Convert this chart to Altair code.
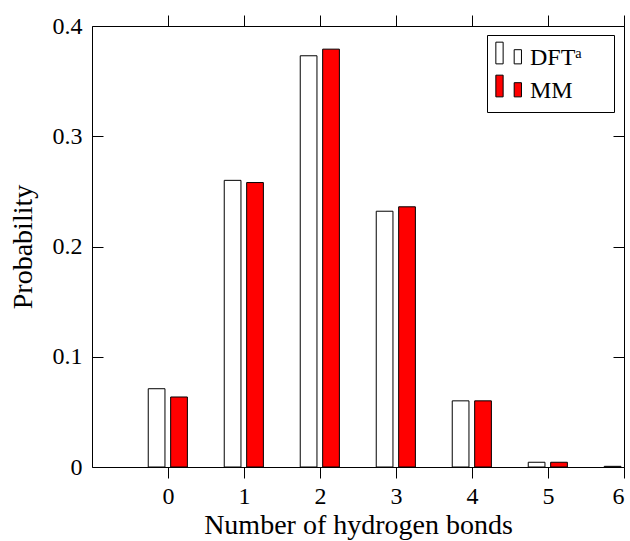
import altair as alt
import pandas as pd

# ---- data ----
hbonds = [0, 1, 2, 3, 4, 5, 6]
dft = [0.071, 0.260, 0.373, 0.232, 0.060, 0.0043, 0.0006]
mm = [0.0635, 0.258, 0.379, 0.236, 0.060, 0.0043, 0.0]
series_names = ["DFTᵃ", "MM"]
x_ticks = [0, 1, 2, 3, 4, 5, 6]
y_ticks = [0, 0.1, 0.2, 0.3, 0.4]

rows = []
for n, a, b in zip(hbonds, dft, mm):
    rows.append({"n": n, "series": series_names[0], "p": a})
    rows.append({"n": n, "series": series_names[1], "p": b})
df = pd.DataFrame(rows)

FONT = "Liberation Serif"
xscale = alt.Scale(domain=[-1, 6], nice=False, zero=False)
yscale = alt.Scale(domain=[0, 0.4], nice=False)

base = alt.Chart(df).transform_calculate(
    x0=f"datum.n + (datum.series == '{series_names[0]}' ? -0.26 : 0.035)",
    x1=f"datum.n + (datum.series == '{series_names[0]}' ? -0.04 : 0.255)",
)

legend_symbol = ("M-1.05,-1.18H-0.49V0.49H-1.05Z "
                 "M0.36,-0.6H0.92V0.49H0.36Z")

bars = base.mark_bar(stroke="black", strokeWidth=1, clip=True).encode(
    x=alt.X("x0:Q", scale=xscale,
            axis=alt.Axis(values=x_ticks, title="Number of hydrogen bonds", orient="bottom",
                          tickSize=11, labelPadding=6, titleY=66,
                          titleBaseline="alphabetic", domain=False,
                          grid=False, format="d")),
    x2="x1:Q",
    y=alt.Y("p:Q", scale=yscale,
            axis=alt.Axis(values=y_ticks, title="Probability", orient="left",
                          ticks=False, tickSize=0, labelPadding=10, titleX=-69,
                          titleBaseline="middle",
                          domain=False, grid=False, format=".1~f")),
    y2=alt.datum(0),
    color=alt.Color("series:N",
                    scale=alt.Scale(domain=series_names, range=["white", "red"]),
                    legend=alt.Legend(title=None, orient="none", legendX=395, legendY=9,
                                      symbolType=legend_symbol,
                                      symbolSize=676, symbolStrokeColor="black",
                                      symbolStrokeWidth=1, labelFont=FONT, labelFontSize=24,
                                      labelOffset=7, rowPadding=3, padding=9,
                                      labelExpr="datum.label + '\u00a0\u00a0\u00a0\u2009\u200b'",
                                      strokeColor="black", fillColor="white",
                                      cornerRadius=0, labelColor="black")),
)

ticks_top_left = base.mark_bar(opacity=0, clip=True).encode(
    x=alt.X("x0:Q", scale=xscale,
            axis=alt.Axis(values=x_ticks, orient="top", labels=False, tickSize=11,
                          domain=False, grid=False, title=None)),
    x2="x1:Q",
    y=alt.Y("p:Q", scale=yscale,
            axis=alt.Axis(values=y_ticks, orient="left", labels=False, tickSize=11,
                          offset=-11, domain=False, grid=False, title=None)),
    y2=alt.datum(0),
)

ticks_right = base.mark_bar(opacity=0, clip=True).encode(
    x=alt.X("x0:Q", scale=xscale, axis=None),
    x2="x1:Q",
    y=alt.Y("p:Q", scale=yscale,
            axis=alt.Axis(values=y_ticks, orient="right", labels=False, tickSize=11,
                          offset=-11, domain=False, grid=False, title=None)),
    y2=alt.datum(0),
)

chart = (
    alt.layer(bars, ticks_top_left, ticks_right)
    .resolve_axis(x="independent", y="independent")
    .properties(width=532, height=441,
                padding={"left": 92, "top": 26, "right": 6, "bottom": 74},
                autosize=alt.AutoSizeParams(type="none"),
                background="white")
    .configure_view(stroke="black", strokeWidth=1)
    .configure_axis(labelFont=FONT, titleFont=FONT, labelFontSize=24, titleFontSize=28,
                    labelColor="black", titleColor="black", tickColor="black",
                    titleFontWeight="normal", tickWidth=1)
)

chart.save("out.html", embed_options={"renderer": "svg", "actions": False})
